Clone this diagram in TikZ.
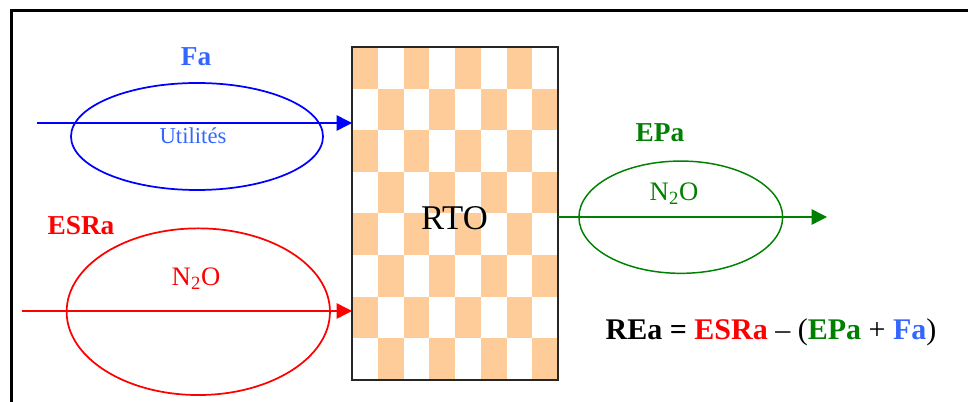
\documentclass[tikz,border=0pt]{standalone}
\usepackage{fontspec}
\setmainfont{Liberation Serif}
\usetikzlibrary{arrows.meta,shapes.geometric}
\definecolor{fablue}{RGB}{51,102,255}
\definecolor{pureblue}{RGB}{0,0,255}
\definecolor{gred}{RGB}{255,0,0}
\definecolor{ggreen}{RGB}{0,128,0}
\definecolor{peach}{RGB}{253,204,153}
\begin{document}
\begin{tikzpicture}[x=0.75pt,y=-0.75pt,
  lbl/.style={anchor=base,inner sep=0pt,font=\fontsize{20.5}{24}\selectfont\bfseries},
  txt/.style={anchor=base,inner sep=0pt,font=\fontsize{20}{24}\selectfont},
  oval/.style={ellipse,draw,line width=1.3pt,inner sep=0pt,outer sep=0pt},
  flow/.style={line width=1.1pt,-{Triangle[length=11.5pt,width=11.5pt]}},
]
\useasboundingbox (0,0) rectangle (968,402);
% frame
\draw[line width=2.4pt] (11.5,402) -- (11.5,10.5) -- (968,10.5);
% checkerboard
\foreach \i in {0,...,7} {
  \foreach \j in {0,2,4,6} {
    \pgfmathtruncatemacro\cc{\j+mod(\i,2)}
    \fill[peach] (352+\cc*25.75, 47+\i*41.625) rectangle ++(25.75,41.625);
  }
}
\node[draw=black!85, line width=0.9pt, minimum width=154.5pt, minimum height=249.75pt, inner sep=0pt, outer sep=0pt] (rto) at (455,213.5) {};
\node[txt, font=\fontsize{26}{30}\selectfont] (rtolbl) at (454.5,230) {RTO};
% Fa
\node[oval, draw=pureblue, minimum width=189pt, minimum height=80.25pt] (faov) at (197,136.5) {};
\node[lbl, text=fablue] (falbl) at (196,66) {Fa};
\node[txt, text=fablue, font=\fontsize{17}{20}\selectfont] (util) at (193,144) {Utilités};
\coordinate (fain) at (37,123);
\draw[flow, pureblue] (fain) -- (fain -| rto.west);
% ESRa
\node[oval, draw=gred, minimum width=197.5pt, minimum height=125pt] (esrov) at (198.3,311.7) {};
\node[lbl, text=gred] (esrlbl) at (81,235) {ESRa};
\node[txt, text=gred] (n2ored) at (196,285.5) {N\textsubscript{2}O};
\coordinate (esrin) at (22,311);
\draw[flow, gred] (esrin) -- (esrin -| rto.west);
% EPa
\node[oval, draw=ggreen, line width=1.1pt, minimum width=152.8pt, minimum height=84.2pt] (epov) at (680.8,217.2) {};
\node[lbl, text=ggreen] (eplbl) at (660,141.7) {EPa};
\node[txt, text=ggreen] (n2ogreen) at (674,200.5) {N\textsubscript{2}O};
\coordinate (epout) at (827,217);
\draw[flow, ggreen] (epout -| rto.east) -- (epout);
% equation
\node[lbl, font=\fontsize{22.5}{27}\selectfont\bfseries] (eq) at (771,340) {REa = \textcolor{gred}{ESRa} {\mdseries –} {\mdseries (}\textcolor{ggreen}{EPa} {\mdseries +} \textcolor{fablue}{Fa}{\mdseries )}};
\end{tikzpicture}
\end{document}
